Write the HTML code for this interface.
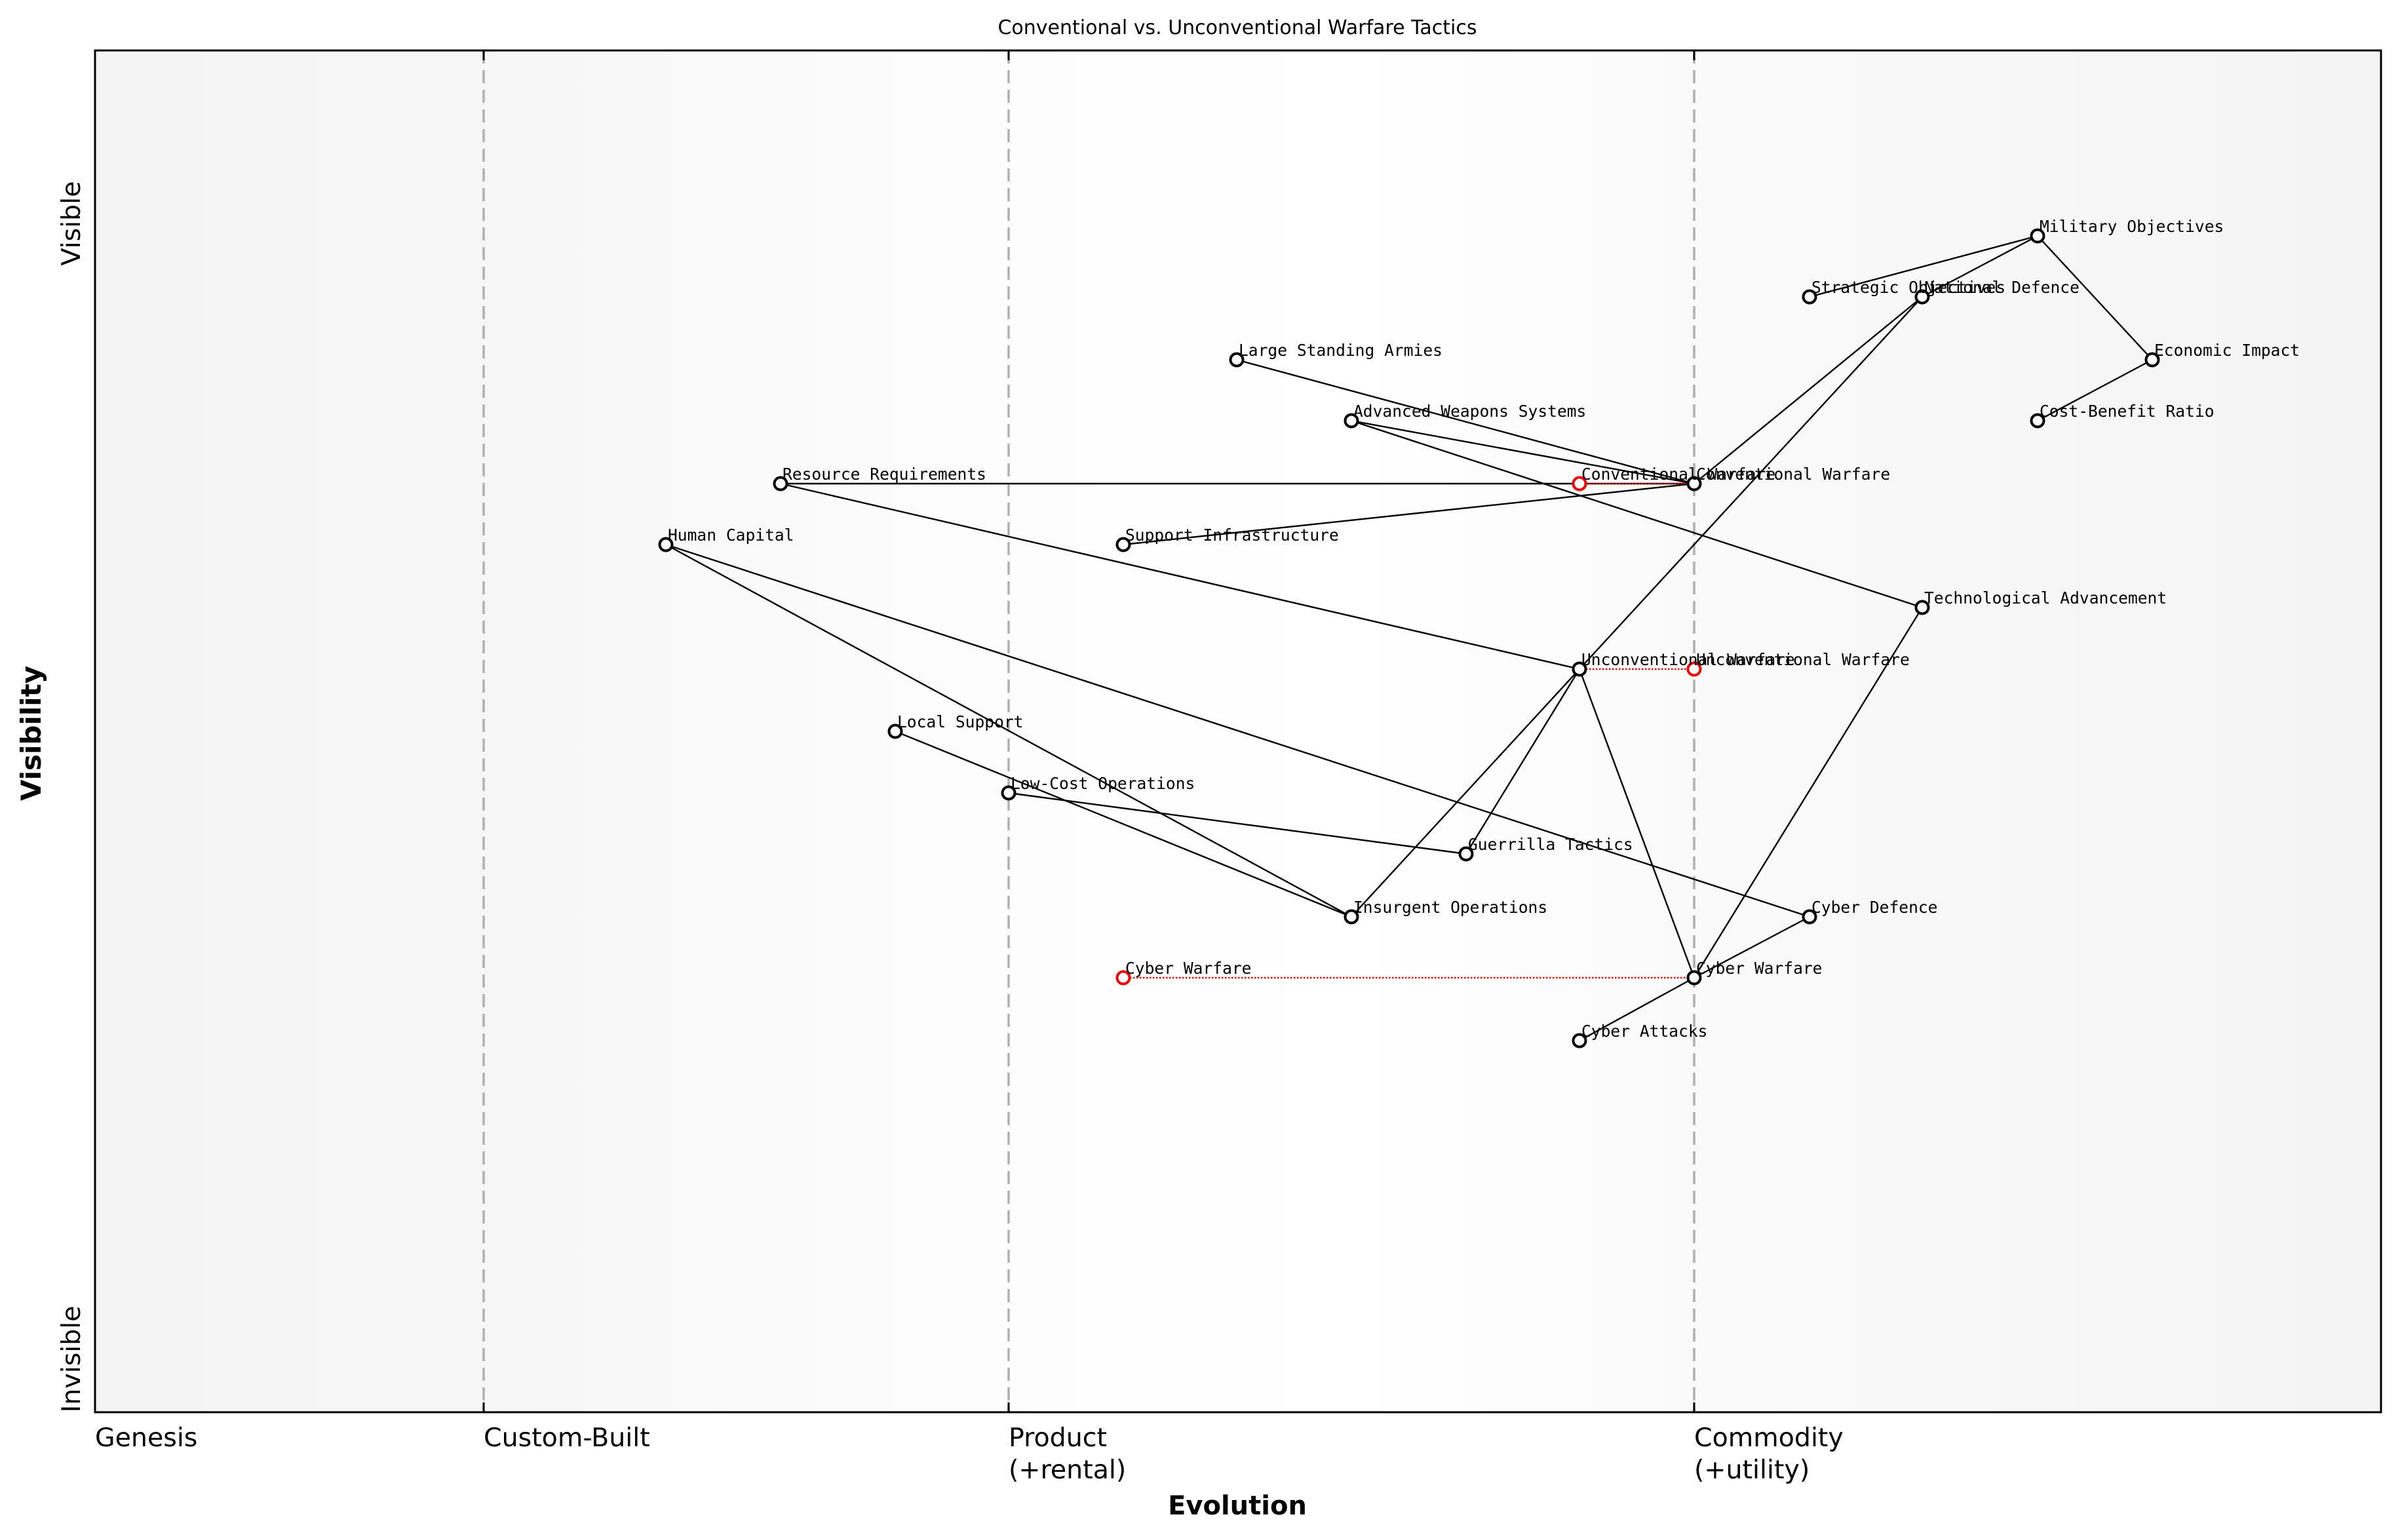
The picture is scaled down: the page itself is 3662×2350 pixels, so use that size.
<!DOCTYPE html>
<html><head><meta charset="utf-8"><style>
html,body{margin:0;padding:0;background:#fff}
svg{display:block}
.l{font-family:"DejaVu Sans Mono","Liberation Mono",monospace;font-size:24.6px;fill:#000}
.s{font-family:"DejaVu Sans","Liberation Sans",sans-serif}
</style></head><body>
<svg width="3662" height="2350" viewBox="0 0 3662 2350" xmlns="http://www.w3.org/2000/svg">
<defs>
<linearGradient id="bg" x1="0" y1="0" x2="1" y2="0">
<stop offset="0" stop-color="#f4f4f4"/>
<stop offset="0.2" stop-color="#f7f7f7"/>
<stop offset="0.4" stop-color="#fdfdfd"/>
<stop offset="0.55" stop-color="#ffffff"/>
<stop offset="0.7" stop-color="#fafafa"/>
<stop offset="1" stop-color="#f4f4f4"/>
</linearGradient>
</defs>
<rect x="145" y="77" width="3488" height="2078" fill="url(#bg)"/>
<text class="s" x="1888" y="52" font-size="30" text-anchor="middle">Conventional vs. Unconventional Warfare Tactics</text>
<g stroke="#b0b0b0" stroke-width="3.5" stroke-dasharray="20,10">
<line x1="738" y1="77" x2="738" y2="2155"/>
<line x1="1539" y1="77" x2="1539" y2="2155"/>
<line x1="2585" y1="77" x2="2585" y2="2155"/>
</g>
<g stroke="#000" stroke-width="3">
<line x1="738" y1="77" x2="738" y2="92"/><line x1="1539" y1="77" x2="1539" y2="92"/><line x1="2585" y1="77" x2="2585" y2="92"/>
<line x1="738" y1="2155" x2="738" y2="2140"/><line x1="1539" y1="2155" x2="1539" y2="2140"/><line x1="2585" y1="2155" x2="2585" y2="2140"/>
</g>
<g stroke="#000" stroke-width="2.4" fill="none">
<line x1="3109" y1="360" x2="2761" y2="453"/>
<line x1="3109" y1="360" x2="2933" y2="453"/>
<line x1="3109" y1="360" x2="3284" y2="549"/>
<line x1="3284" y1="549" x2="3109" y2="642"/>
<line x1="2933" y1="453" x2="2585" y2="738"/>
<line x1="2933" y1="453" x2="2410" y2="1021"/>
<line x1="1887" y1="549" x2="2585" y2="738"/>
<line x1="2062" y1="642" x2="2585" y2="738"/>
<line x1="2062" y1="642" x2="2933" y2="927"/>
<line x1="1191" y1="738" x2="2585" y2="738"/>
<line x1="1714" y1="831" x2="2585" y2="738"/>
<line x1="1191" y1="738" x2="2410" y2="1021"/>
<line x1="1016" y1="831" x2="2062" y2="1399"/>
<line x1="1016" y1="831" x2="2761" y2="1399"/>
<line x1="1366" y1="1116" x2="2062" y2="1399"/>
<line x1="1539" y1="1210" x2="2237" y2="1303"/>
<line x1="2410" y1="1021" x2="2237" y2="1303"/>
<line x1="2410" y1="1021" x2="2062" y2="1399"/>
<line x1="2410" y1="1021" x2="2585" y2="1492"/>
<line x1="2933" y1="927" x2="2585" y2="1492"/>
<line x1="2585" y1="1492" x2="2761" y2="1399"/>
<line x1="2585" y1="1492" x2="2410" y2="1588"/>
</g>
<g stroke="#e00" stroke-width="2.5" stroke-dasharray="2.5,2.5" fill="none">
<line x1="2410" y1="738" x2="2585" y2="738"/>
<line x1="2410" y1="1021" x2="2585" y2="1021"/>
<line x1="1714" y1="1492" x2="2585" y2="1492"/>
</g>
<g fill="#fff" stroke="#000" stroke-width="4">
<circle cx="3109" cy="360" r="9.5"/><circle cx="2761" cy="453" r="9.5"/><circle cx="2933" cy="453" r="9.5"/>
<circle cx="3284" cy="549" r="9.5"/><circle cx="3109" cy="642" r="9.5"/><circle cx="1887" cy="549" r="9.5"/>
<circle cx="2062" cy="642" r="9.5"/><circle cx="2585" cy="738" r="9.5"/><circle cx="1191" cy="738" r="9.5"/>
<circle cx="1016" cy="831" r="9.5"/><circle cx="1714" cy="831" r="9.5"/><circle cx="2933" cy="927" r="9.5"/>
<circle cx="2410" cy="1021" r="9.5"/><circle cx="1366" cy="1116" r="9.5"/><circle cx="1539" cy="1210" r="9.5"/>
<circle cx="2237" cy="1303" r="9.5"/><circle cx="2062" cy="1399" r="9.5"/><circle cx="2761" cy="1399" r="9.5"/>
<circle cx="2585" cy="1492" r="9.5"/><circle cx="2410" cy="1588" r="9.5"/>
</g>
<g fill="#fff" stroke="#e00" stroke-width="4">
<circle cx="2410" cy="738" r="9.5"/><circle cx="2585" cy="1021" r="9.5"/><circle cx="1714" cy="1492" r="9.5"/>
</g>
<g class="l">
<text x="3112" y="354">Military Objectives</text>
<text x="2764" y="447">Strategic Objectives</text>
<text x="2936" y="447">National Defence</text>
<text x="3287" y="543">Economic Impact</text>
<text x="3112" y="636">Cost-Benefit Ratio</text>
<text x="1890" y="543">Large Standing Armies</text>
<text x="2065" y="636">Advanced Weapons Systems</text>
<text x="2413" y="732">Conventional Warfare</text>
<text x="2588" y="732">Conventional Warfare</text>
<text x="1194" y="732">Resource Requirements</text>
<text x="1019" y="825">Human Capital</text>
<text x="1717" y="825">Support Infrastructure</text>
<text x="2936" y="921">Technological Advancement</text>
<text x="2413" y="1015">Unconventional Warfare</text>
<text x="2588" y="1015">Unconventional Warfare</text>
<text x="1369" y="1110">Local Support</text>
<text x="1542" y="1204">Low-Cost Operations</text>
<text x="2240" y="1297">Guerrilla Tactics</text>
<text x="2065" y="1393">Insurgent Operations</text>
<text x="2764" y="1393">Cyber Defence</text>
<text x="2588" y="1486">Cyber Warfare</text>
<text x="1717" y="1486">Cyber Warfare</text>
<text x="2413" y="1582">Cyber Attacks</text>
</g>
<rect x="145" y="77" width="3488" height="2078" fill="none" stroke="#000" stroke-width="3"/>
<g class="s" font-size="39.5">
<text x="145" y="2207">Genesis</text>
<text x="738" y="2207">Custom-Built</text>
<text x="1539" y="2207">Product</text>
<text x="1539" y="2256">(+rental)</text>
<text x="2585" y="2207">Commodity</text>
<text x="2585" y="2256">(+utility)</text>
</g>
<text class="s" x="1888" y="2311" font-size="40" font-weight="bold" text-anchor="middle">Evolution</text>
<text class="s" transform="translate(122,341) rotate(-90)" font-size="39.5" text-anchor="middle">Visible</text>
<text class="s" transform="translate(122,2074) rotate(-90)" font-size="39.5" text-anchor="middle">Invisible</text>
<text class="s" transform="translate(62,1119) rotate(-90)" font-size="42" font-weight="bold" text-anchor="middle">Visibility</text>
</svg>
</body></html>
